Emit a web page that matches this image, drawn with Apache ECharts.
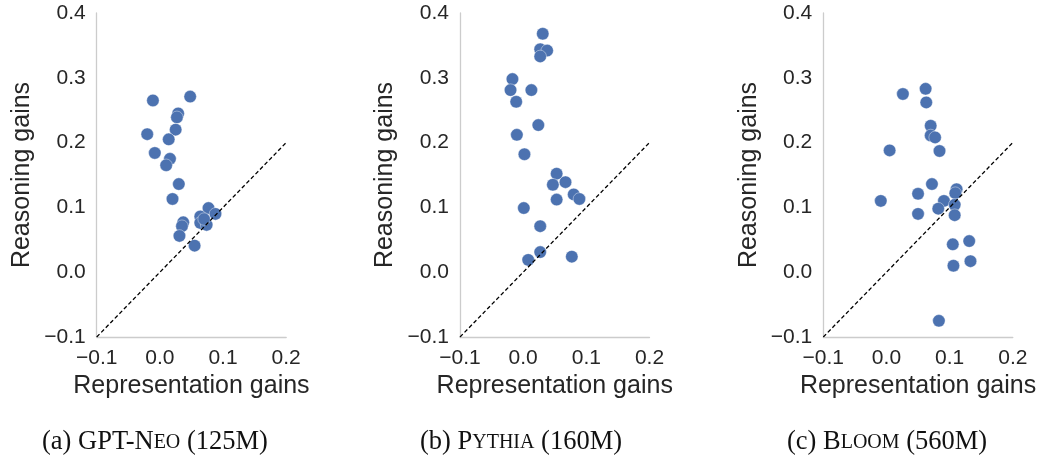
<!DOCTYPE html>
<html>
<head>
<meta charset="utf-8">
<script src="https://cdn.jsdelivr.net/npm/echarts@6/dist/echarts.min.js"></script>
<style>html,body{margin:0;padding:0;background:#fff;}#c{width:1045px;height:457px;}</style>
</head>
<body>
<div id="c"></div>
<script>
// ---- data ----
const xTicks = [-0.1, 0.0, 0.1, 0.2];
const yTicks = [-0.1, 0.0, 0.1, 0.2, 0.3, 0.4];
const xTitle = 'Representation gains';
const yTitle = 'Reasoning gains';
const diagonal = [[-0.1, -0.1], [0.2, 0.2]];

const gptNeo = [
  [-0.011, 0.265], [0.048, 0.271], [0.029, 0.245], [0.027, 0.239], [0.025, 0.220],
  [-0.020, 0.213], [0.014, 0.205], [-0.008, 0.184], [0.016, 0.175], [0.010, 0.165],
  [0.030, 0.136], [0.020, 0.113], [0.077, 0.099], [0.064, 0.086], [0.088, 0.090],
  [0.064, 0.076], [0.074, 0.073], [0.070, 0.082], [0.037, 0.077], [0.035, 0.071],
  [0.031, 0.056], [0.055, 0.041]
];
const pythia = [
  [0.031, 0.368], [0.027, 0.344], [0.038, 0.342], [0.027, 0.333], [-0.017, 0.298],
  [-0.020, 0.281], [0.013, 0.281], [-0.011, 0.263], [0.024, 0.227], [-0.010, 0.212],
  [0.002, 0.182], [0.053, 0.152], [0.047, 0.135], [0.067, 0.139], [0.053, 0.112],
  [0.080, 0.120], [0.089, 0.113], [0.001, 0.099], [0.027, 0.071], [0.027, 0.031],
  [0.008, 0.019], [0.077, 0.024]
];
const bloom = [
  [0.026, 0.275], [0.062, 0.283], [0.063, 0.262], [0.070, 0.226], [0.070, 0.211],
  [0.077, 0.208], [0.005, 0.188], [0.084, 0.187], [0.072, 0.136], [0.050, 0.121],
  [0.111, 0.128], [0.109, 0.122], [-0.009, 0.110], [0.091, 0.110], [0.082, 0.098],
  [0.108, 0.104], [0.050, 0.090], [0.108, 0.088], [0.105, 0.043], [0.131, 0.048],
  [0.106, 0.010], [0.133, 0.017], [0.083, -0.075]
];
const panels = [gptNeo, pythia, bloom];
const captions = [
  ['(a) GPT-N', 'EO', ' (125M)'],
  ['(b) P', 'YTHIA', ' (160M)'],
  ['(c) B', 'LOOM', ' (560M)']
];

// ---- layout ----
const gridLefts = [96.7, 460, 823.3];
const gridW = 189.5, gridTop = 13, gridH = 324;
const captionLefts = [37, 415, 782];
const blue = '#4C72B0';
const sans = '"Liberation Sans", Arial, sans-serif';
const fmt = v => (Math.abs(v) < 1e-9 ? 0 : v).toFixed(1).replace('-', '\u2212');

const grid = [], xAxis = [], yAxis = [], series = [], title = [];
panels.forEach((pts, i) => {
  grid.push({left: gridLefts[i], top: gridTop, width: gridW, height: gridH});
  xAxis.push({
    gridIndex: i, type: 'value', min: xTicks[0], max: xTicks[xTicks.length - 1], interval: 0.1,
    name: xTitle, nameLocation: 'middle', nameGap: 36,
    nameTextStyle: {fontFamily: sans, fontSize: 25, color: '#262626'},
    axisLine: {show: true, onZero: false, lineStyle: {color: '#cccccc', width: 1.3}},
    axisTick: {show: false}, splitLine: {show: false},
    axisLabel: {formatter: fmt, fontFamily: sans, fontSize: 21, color: '#262626', margin: 11}
  });
  yAxis.push({
    gridIndex: i, type: 'value', min: yTicks[0], max: yTicks[yTicks.length - 1], interval: 0.1,
    name: yTitle, nameLocation: 'middle', nameGap: 62,
    nameTextStyle: {fontFamily: sans, fontSize: 25, color: '#262626'},
    axisLine: {show: true, onZero: false, lineStyle: {color: '#cccccc', width: 1.3}},
    axisTick: {show: false}, splitLine: {show: false},
    axisLabel: {formatter: fmt, fontFamily: sans, fontSize: 21, color: '#262626', margin: 11}
  });
  series.push({
    type: 'scatter', xAxisIndex: i, yAxisIndex: i, data: pts, symbolSize: 12.5, z: 2,
    itemStyle: {color: blue, opacity: 1, borderColor: '#ffffff', borderWidth: 0.4},
    emphasis: {disabled: true}
  });
  series.push({
    type: 'line', xAxisIndex: i, yAxisIndex: i, data: diagonal, symbol: 'none', z: 3,
    lineStyle: {color: '#000', width: 1.3, type: [4, 2.5]}, silent: true
  });
  const c = captions[i];
  title.push({
    left: captionLefts[i], top: 424,
    text: '{n|' + c[0] + '}{s|' + c[1] + '}{n|' + c[2] + '}',
    textStyle: {
      fontWeight: 'normal',
      rich: {
        n: {fontFamily: '"Liberation Serif", serif', fontSize: 26.5, fontWeight: 'normal', color: '#111'},
        s: {fontFamily: '"Liberation Serif", serif', fontSize: 20, fontWeight: 'normal', color: '#111'}
      }
    }
  });
});

const chart = echarts.init(document.getElementById('c'), null, {renderer: 'canvas'});
chart.setOption({animation: false, backgroundColor: '#fff', grid, xAxis, yAxis, series, title});
</script>
</body>
</html>
